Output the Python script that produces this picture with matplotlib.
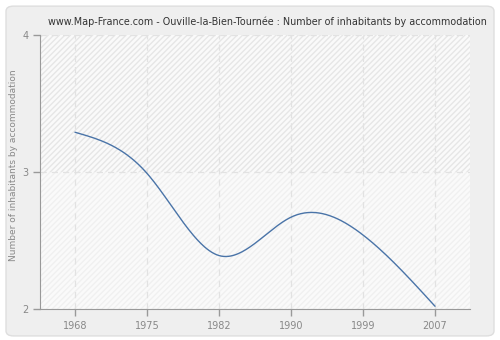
import matplotlib
matplotlib.use("Agg")
import numpy as np
import matplotlib.pyplot as plt
from matplotlib.patches import FancyBboxPatch, Rectangle

years = ["1968", "1975", "1982", "1990", "1999", "2007"]
values = [3.29, 2.99, 2.39, 2.67, 2.54, 2.02]
yticks = [2, 3, 4]

title = "www.Map-France.com - Ouville-la-Bien-Tournée : Number of inhabitants by accommodation"
ylabel = "Number of inhabitants by accommodation"

fig = plt.figure(figsize=(5, 3.4), dpi=100)
fig.patch.set_facecolor("white")
bg = FancyBboxPatch((0.012, 0.012), 0.976, 0.97, boxstyle="round,pad=0,rounding_size=0.015",
                    transform=fig.transFigure, facecolor="#efefef", edgecolor="#dedede", lw=1, zorder=-10)
fig.patches.append(bg)

ax = fig.add_axes([0.08, 0.0912, 0.86, 0.806])
ax.set_facecolor("#fafafa")
ax.set_xlim(-0.486, len(years) - 1 + 0.486)
ax.set_ylim(2, 4)

# hatched bands
ax.add_patch(Rectangle((-1, 3), 10, 1, facecolor="#fafafa", edgecolor="#e6e6e6", hatch="//////", lw=0, zorder=0))
ax.add_patch(Rectangle((-1, 2), 10, 1, facecolor="#fafafa", edgecolor="#f0f0f0", hatch="//////", lw=0, zorder=0))

# natural cubic spline through the points (uniform spacing)
xs = np.arange(len(values), dtype=float)
ys = np.array(values)
n = len(xs)
A = np.zeros((n, n)); b = np.zeros(n)
A[0, 0] = 1; A[-1, -1] = 1
for i in range(1, n - 1):
    A[i, i-1] = 1; A[i, i] = 4; A[i, i+1] = 1
    b[i] = 6 * (ys[i+1] - 2*ys[i] + ys[i-1])
M = np.linalg.solve(A, b)
px, py = [], []
for i in range(n - 1):
    t = np.linspace(0, 1, 60)
    yseg = ((1-t)*ys[i] + t*ys[i+1]
            + ((1-t)**3 - (1-t)) * M[i] / 6 + (t**3 - t) * M[i+1] / 6)
    px.extend(xs[i] + t); py.extend(yseg)
ax.plot(px, py, color="#4a74a8", lw=1.0, zorder=3, solid_capstyle="round")

ax.set_xticks(xs)
ax.set_xticklabels(years)
ax.set_yticks(yticks)
ax.grid(True, color="#e2e2e2", linestyle=(0, (5, 4)), lw=0.9)
ax.set_axisbelow(True)
for s in ["top", "right"]:
    ax.spines[s].set_visible(False)
for s in ["left", "bottom"]:
    ax.spines[s].set_color("#999999")
ax.tick_params(colors="#999999", labelcolor="#888888", labelsize=7, length=5, width=1)
ax.set_ylabel(ylabel, color="#888888", fontsize=6.5)
ax.yaxis.set_label_coords(-0.051, 0.526)
fig.text(0.534, 0.935, title, ha="center", va="center", color="#333333", fontsize=6.9)

fig.savefig("out.png", dpi=100, facecolor=fig.get_facecolor())
